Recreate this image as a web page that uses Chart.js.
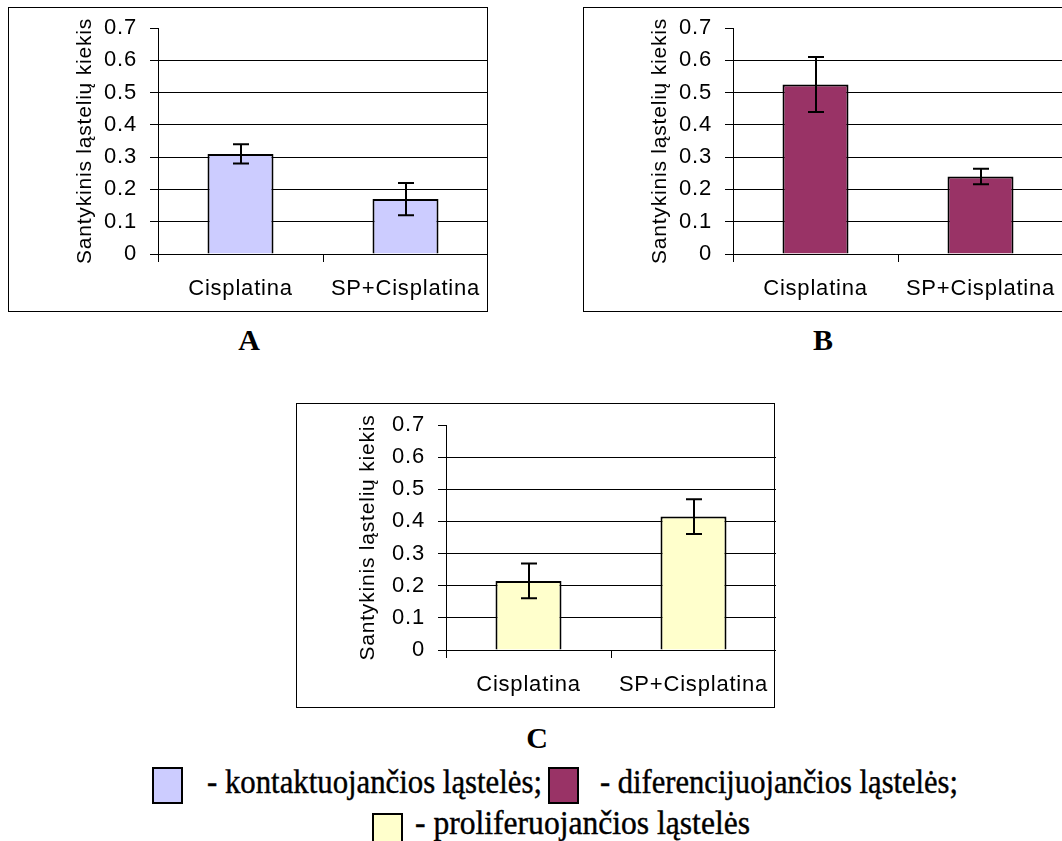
<!DOCTYPE html>
<html><head><meta charset="utf-8">
<script src="https://cdn.jsdelivr.net/npm/chart.js@4"></script>
<style>
html,body{margin:0;padding:0;background:#fff}
body{width:1062px;height:841px;overflow:hidden;position:relative}
.panel{position:absolute;height:305px}
.panel canvas{position:absolute;left:0;top:0}
.frame{position:absolute;left:0;top:0;height:305px;border:1.5px solid #000;box-sizing:border-box;pointer-events:none}
.lbl{position:absolute;font:bold 30px "Liberation Serif",serif;line-height:30px;transform:translateX(-50%);color:#000}
.leg{position:absolute;font:33px "Liberation Serif",serif;line-height:32px;white-space:nowrap;transform-origin:0 0;color:#000;-webkit-text-stroke:0.4px #000}
.box{position:absolute;border:2px solid #000;box-sizing:border-box}
</style></head>
<body>
<div class="panel" style="left:8px;top:7px;width:480px"><canvas id="cA" width="480" height="305"></canvas><div class="frame" style="width:480px"></div></div>
<div class="panel" style="left:583px;top:7px;width:480px"><canvas id="cB" width="480" height="305"></canvas><div class="frame" style="width:480px"></div></div>
<div class="panel" style="left:296px;top:403px;width:480px"><canvas id="cC" width="480" height="305"></canvas><div class="frame" style="width:479px"></div></div>
<div class="lbl" style="left:249px;top:325px">A</div>
<div class="lbl" style="left:823px;top:325px">B</div>
<div class="lbl" style="left:537px;top:723px">C</div>
<div id="legend"></div>
<script>
// ---- data ----
const categories = ['Cisplatina', 'SP+Cisplatina'];
const valuesA = [0.31, 0.17];
const errorsA = [0.03, 0.05];
const valuesB = [0.525, 0.24];
const errorsB = [0.085, 0.024];
const valuesC = [0.215, 0.415];
const errorsC = [0.054, 0.054];
const yTickValues = [0, 0.1, 0.2, 0.3, 0.4, 0.5, 0.6, 0.7];
const yTitle = 'Santykinis ląstelių kiekis';
const seriesColors = ['#CCCCFF', '#993366', '#FFFFCC'];
const legendLabels = ['- kontaktuojančios ląstelės;', '- diferencijuojančios ląstelės;', '- proliferuojančios ląstelės'];

// ---- plugins ----
const spacing = {id:'spacing', beforeDraw(chart){ chart.ctx.letterSpacing = '0.8px'; }};
const errorBars = {
  id:'errorBars',
  afterDatasetsDraw(chart, args, opts){
    const ctx = chart.ctx, y = chart.scales.y;
    const meta = chart.getDatasetMeta(0);
    const vals = chart.data.datasets[0].data;
    ctx.save();
    ctx.strokeStyle = '#000'; ctx.lineWidth = 2;
    meta.data.forEach((bar, i) => {
      const e = opts.errors[i];
      const yt = y.getPixelForValue(vals[i] + e), yb = y.getPixelForValue(vals[i] - e);
      const x = Math.round(bar.x);
      ctx.beginPath();
      ctx.moveTo(x, yt); ctx.lineTo(x, yb);
      ctx.moveTo(x - 8, yt); ctx.lineTo(x + 8, yt);
      ctx.moveTo(x - 8, yb); ctx.lineTo(x + 8, yb);
      ctx.stroke();
    });
    ctx.restore();
  }
};

const tickFont = {family:'"Liberation Sans", Arial, sans-serif', size:22};
const titleFont = {family:'"Liberation Sans", Arial, sans-serif', size:21};

function makeChart(id, values, errors, color, titlePad, topPad){
  return new Chart(document.getElementById(id), {
    type:'bar',
    data:{labels:categories, datasets:[{data:values, backgroundColor:color, borderColor:'#000', borderWidth:2,
      barPercentage:0.4, categoryPercentage:1}]},
    plugins:[spacing, errorBars],
    options:{
      responsive:false, animation:false, devicePixelRatio:1,
      layout:{padding:{left:0, right:0, top:topPad, bottom:0}},
      plugins:{legend:{display:false}, tooltip:{enabled:false}, errorBars:{errors}},
      scales:{
        x:{
          type:'category', offset:true,
          grid:{offset:true, drawOnChartArea:false, drawTicks:true, tickLength:8, color:'#000', tickColor:'#000'},
          border:{color:'#000', width:1},
          ticks:{font:tickFont, color:'#000', padding:14, maxRotation:0, minRotation:0, autoSkip:false},
          afterFit(s){ s.height = 58; s.paddingLeft = 0; s.paddingRight = 0; }
        },
        y:{
          min:0, max:0.7,
          afterBuildTicks(s){ s.ticks = yTickValues.map(v => ({value:v})); },
          ticks:{font:tickFont, color:'#000', padding:13,
            callback:v => v === 0 ? '0' : Number(v).toFixed(1)},
          grid:{color:c => (c.tick && c.tick.value >= 0.69) ? 'rgba(0,0,0,0)' : '#000',
            tickColor:'#000', tickLength:8, lineWidth:1},
          border:{color:'#000', width:1},
          title:{display:true, text:yTitle, font:titleFont, color:'#000', padding:{top:titlePad, bottom:0}},
          afterFit(s){ s.width = 150; s.paddingTop = 0; s.paddingBottom = 0; }
        }
      }
    }
  });
}

makeChart('cA', valuesA, errorsA, seriesColors[0], 65, 21);
makeChart('cB', valuesB, errorsB, seriesColors[1], 65, 21);
makeChart('cC', valuesC, errorsC, seriesColors[2], 60, 22);

// ---- legend ----
const boxPos = [[152,767,31,37],[548,767,31,37],[372,813,31,37]];
const textPos = [[207,766,335],[600,766,358],[415,807,335]];
const legend = document.getElementById('legend');
legendLabels.forEach((t, i) => {
  const b = document.createElement('div');
  b.className = 'box';
  b.style.cssText = `left:${boxPos[i][0]}px;top:${boxPos[i][1]}px;width:${boxPos[i][2]}px;height:${boxPos[i][3]}px;background:${seriesColors[i]}`;
  legend.appendChild(b);
  const s = document.createElement('div');
  s.className = 'leg';
  s.textContent = t;
  s.style.left = textPos[i][0] + 'px';
  s.style.top = textPos[i][1] + 'px';
  legend.appendChild(s);
  const w = s.getBoundingClientRect().width;
  s.style.transform = `scaleX(${textPos[i][2] / w})`;
});
</script>
</body></html>
